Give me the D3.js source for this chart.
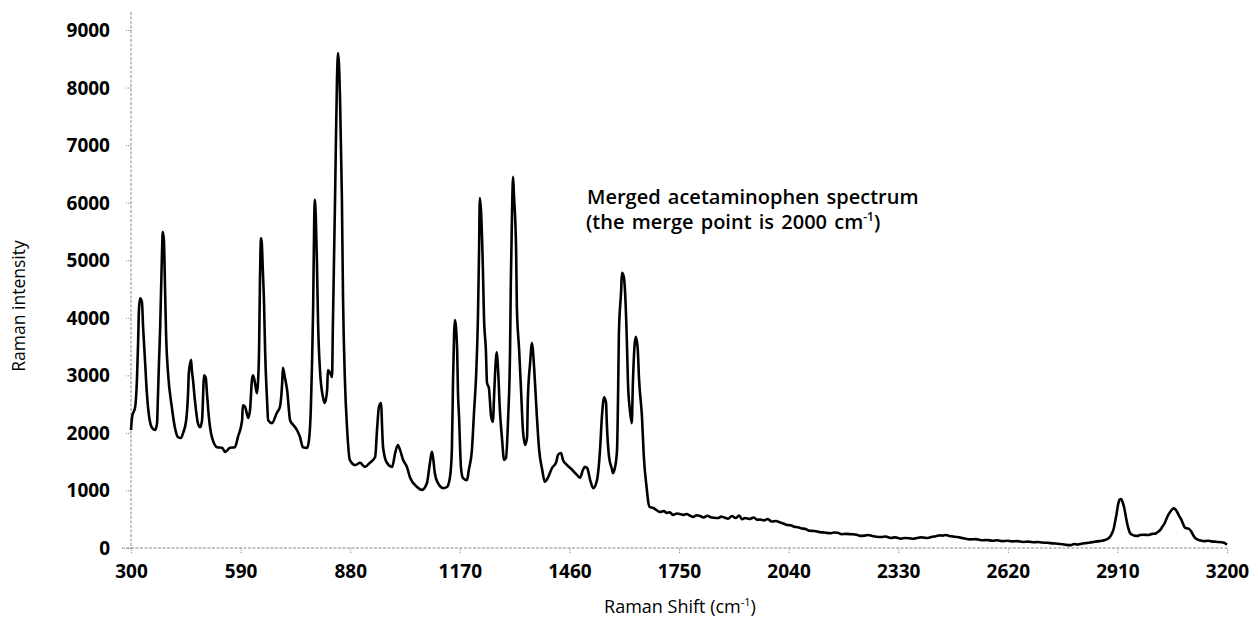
<!DOCTYPE html>
<html>
<head>
<meta charset="utf-8">
<script src="https://cdn.jsdelivr.net/npm/d3@7"></script>
<style>
  html, body { margin: 0; padding: 0; background: #fff; }
  svg { display: block; }
  .tick text { font-family: "Open Sans", sans-serif; font-weight: 700; font-size: 19px; fill: #000; }
  .axis-title, .note { font-family: "Open Sans", sans-serif; fill: #000; }
</style>
</head>
<body>
<svg id="chart" width="1258" height="625"></svg>
<script>
// Merged acetaminophen spectrum: [Raman shift (cm-1), Raman intensity]
const spectrum = [
  [300,2050],[303,2280],[311,2450],[316,2970],[319,3610],[321,4140],[324,4340],[329,4270],[332,3840],
  [337,3270],[342,2690],[348,2280],[356,2085],[364,2050],[369,2170],[371,2570],[374,3210],[377,3790],
  [382,5120],[384,5490],[387,5350],[390,4535],[393,3670],[398,3040],[408,2450],[416,2100],[424,1930],
  [432,1910],[438,2000],[446,2220],[451,2690],[453,3040],[459,3270],[461,3090],[464,2920],[469,2570],
  [477,2170],[483,2100],[488,2220],[491,2690],[493,3000],[498,2950],[501,2690],[506,2280],[514,1930],
  [528,1750],[541,1740],[549,1670],[562,1740],[575,1750],[583,1930],[594,2220],[596,2480],[602,2450],
  [610,2260],[615,2400],[620,2920],[623,3000],[628,2870],[633,2690],[636,2870],[639,3490],[641,4535],
  [644,5380],[646,5300],[649,4800],[652,4260],[655,3390],[660,2570],[663,2220],[673,2170],[686,2350],
  [694,2450],[700,2870],[702,3130],[707,2970],[713,2750],[721,2220],[729,2140],[739,2050],[747,1930],
  [755,1750],[766,1740],[771,1880],[776,2450],[779,3210],[782,4200],[784,5300],[786,6050],[789,5750],
  [792,4950],[795,3910],[800,3090],[808,2620],[813,2520],[819,2750],[821,3090],[827,3040],[832,2970],
  [834,3790],[840,6100],[845,8130],[848,8600],[853,7840],[858,6100],[861,4360],[866,2920],[872,2050],
  [879,1530],[893,1440],[906,1480],[919,1410],[932,1480],[946,1580],[951,2050],[956,2450],[962,2520],
  [964,2170],[967,1750],[977,1480],[991,1410],[999,1650],[1006,1790],[1012,1700],[1020,1530],[1030,1410],
  [1038,1230],[1057,1060],[1070,1010],[1083,1130],[1091,1480],[1096,1670],[1099,1580],[1104,1300],
  [1112,1130],[1126,1040],[1136,1060],[1144,1230],[1149,1700],[1152,2870],[1155,3740],[1157,3960],
  [1163,3440],[1165,2750],[1168,2280],[1173,1410],[1178,1220],[1189,1180],[1194,1360],[1202,1700],
  [1208,2400],[1213,2970],[1218,4010],[1221,5180],[1223,6080],[1226,5870],[1231,4880],[1234,4010],
  [1239,3440],[1242,2870],[1247,2780],[1253,2280],[1258,2190],[1260,2520],[1266,3320],[1268,3400],
  [1271,3140],[1276,2400],[1282,1880],[1287,1530],[1292,1560],[1298,2280],[1303,3440],[1305,4600],
  [1308,5750],[1311,6450],[1313,6170],[1319,5180],[1321,4190],[1327,3440],[1332,2750],[1337,2050],
  [1343,1790],[1348,1930],[1350,2570],[1356,3210],[1361,3560],[1364,3390],[1369,2870],[1374,2280],
  [1380,1700],[1388,1360],[1395,1150],[1403,1220],[1414,1390],[1425,1490],[1430,1620],[1438,1650],
  [1443,1530],[1454,1440],[1467,1360],[1480,1270],[1488,1220],[1496,1360],[1501,1410],[1507,1390],
  [1515,1180],[1523,1040],[1533,1180],[1541,1700],[1546,2280],[1552,2620],[1557,2520],[1559,2170],
  [1565,1580],[1573,1360],[1575,1300],[1581,1410],[1586,1700],[1589,2750],[1591,3740],[1597,4480],
  [1599,4780],[1604,4710],[1607,4480],[1612,3610],[1615,2870],[1620,2400],[1625,2170],[1628,2870],
  [1633,3560],[1636,3670],[1641,3440],[1644,2970],[1652,2280],[1657,1580],[1665,1010],[1668,830],
  [1673,710],[1681,700],[1690,660],[1700,625],[1710,640],[1718,610],[1726,620],[1734,575],[1745,600],
  [1755,585],[1761,575],[1770,590],[1780,560],[1787,540],[1797,570],[1806,555],[1815,530],[1825,560],
  [1832,540],[1842,525],[1853,520],[1862,545],[1870,530],[1880,510],[1890,555],[1900,520],[1909,565],
  [1917,500],[1925,520],[1936,505],[1948,530],[1957,490],[1965,495],[1975,480],[1985,505],[1995,460],
  [2007,470],[2015,450],[2020,440],[2028,420],[2036,400],[2045,395],[2055,370],[2065,360],[2075,340],
  [2085,330],[2095,300],[2108,295],[2123,275],[2135,270],[2150,255],[2160,270],[2170,265],[2180,240],
  [2192,245],[2205,240],[2220,230],[2230,210],[2240,215],[2250,225],[2261,210],[2272,195],[2285,190],
  [2297,200],[2310,175],[2322,185],[2337,160],[2348,175],[2360,170],[2370,160],[2380,175],[2390,185],
  [2398,180],[2408,175],[2420,195],[2430,205],[2440,220],[2448,215],[2456,225],[2465,210],[2475,200],
  [2485,190],[2494,180],[2505,165],[2520,150],[2535,155],[2554,135],[2565,140],[2580,125],[2592,135],
  [2605,120],[2618,125],[2631,115],[2645,120],[2660,105],[2675,110],[2690,100],[2700,105],[2710,95],
  [2725,90],[2740,80],[2752,75],[2765,65],[2775,55],[2787,50],[2795,70],[2805,60],[2815,75],[2827,85],
  [2838,95],[2850,110],[2862,120],[2875,135],[2884,160],[2890,190],[2896,260],[2900,330],[2904,460],
  [2908,600],[2912,760],[2916,840],[2920,850],[2924,790],[2928,700],[2932,560],[2935,450],[2939,340],
  [2943,265],[2949,230],[2955,215],[2962,210],[2970,225],[2980,230],[2990,225],[3002,245],[3010,250],
  [3015,270],[3023,310],[3030,380],[3035,430],[3040,510],[3045,580],[3050,630],[3055,670],[3059,690],
  [3062,680],[3066,650],[3070,600],[3075,540],[3080,480],[3085,400],[3088,360],[3092,345],[3095,340],
  [3100,330],[3105,290],[3110,230],[3115,180],[3121,150],[3130,130],[3140,120],[3150,125],[3158,115],
  [3167,110],[3175,105],[3184,100],[3192,90],[3200,60]
];

const xTicks = [300, 590, 880, 1170, 1460, 1750, 2040, 2330, 2620, 2910, 3200];
const yTicks = [0, 1000, 2000, 3000, 4000, 5000, 6000, 7000, 8000, 9000];

const svg = d3.select("#chart");

const x = d3.scaleLinear().domain([300, 3200]).range([131, 1227]);
const y = d3.scaleLinear().domain([0, 9000]).range([548, 30]);

const axisStroke = "#8a8a8a";

// x axis: dotted baseline with short ticks below
const gx = svg.append("g").attr("transform", `translate(0,${y(0)})`)
  .call(d3.axisBottom(x).tickValues(xTicks).tickFormat(d3.format("d")).tickSizeOuter(0).tickSize(5).tickPadding(12));
gx.select(".domain").remove();
gx.selectAll(".tick line").attr("stroke", axisStroke).attr("stroke-dasharray", "1,1");
gx.append("line").attr("x1", 122).attr("x2", x(3200)).attr("y1", 0).attr("y2", 0)
  .attr("stroke", axisStroke).attr("stroke-dasharray", "3,1.5");

// y axis: dotted line with ticks on the left
const gy = svg.append("g").attr("transform", `translate(${x(300)},0)`)
  .call(d3.axisLeft(y).tickValues(yTicks).tickFormat(d3.format("d")).tickSizeOuter(0).tickSize(5).tickPadding(16));
gy.select(".domain").remove();
gy.selectAll(".tick line").attr("stroke", axisStroke).attr("stroke-dasharray", "1,1");
gy.selectAll(".tick text").attr("dy", "0.34em");
gy.append("line").attr("x1", 0).attr("x2", 0).attr("y1", 12).attr("y2", y(0))
  .attr("stroke", axisStroke).attr("stroke-dasharray", "3,1.5");

// spectrum trace
const line = d3.line().x(d => x(d[0])).y(d => y(d[1])).curve(d3.curveMonotoneX);
svg.append("path").datum(spectrum)
  .attr("d", line)
  .attr("fill", "none")
  .attr("stroke", "#000")
  .attr("stroke-width", 2.6)
  .attr("stroke-linejoin", "round");

// axis titles
svg.append("text").attr("class", "axis-title")
  .attr("transform", "translate(25,306) rotate(-90)")
  .attr("text-anchor", "middle")
  .attr("font-size", 17.5)
  .text("Raman intensity");

const xt = svg.append("text").attr("class", "axis-title")
  .attr("x", 680).attr("y", 613)
  .attr("text-anchor", "middle")
  .attr("font-size", 18);
xt.append("tspan").text("Raman Shift (cm");
xt.append("tspan").attr("font-size", 11).attr("dy", -7).text("-1");
xt.append("tspan").attr("dy", 7).text(")");

// annotation
const note = svg.append("g").attr("class", "note")
  .attr("font-size", 20).attr("font-weight", 600).attr("word-spacing", 2);
note.append("text").attr("x", 587).attr("y", 204).text("Merged acetaminophen spectrum");
const n2 = note.append("text").attr("x", 586).attr("y", 229);
n2.append("tspan").text("(the merge point is 2000 cm");
n2.append("tspan").attr("font-size", 12).attr("dy", -8).text("-1");
n2.append("tspan").attr("dy", 8).text(")");
</script>
</body>
</html>
